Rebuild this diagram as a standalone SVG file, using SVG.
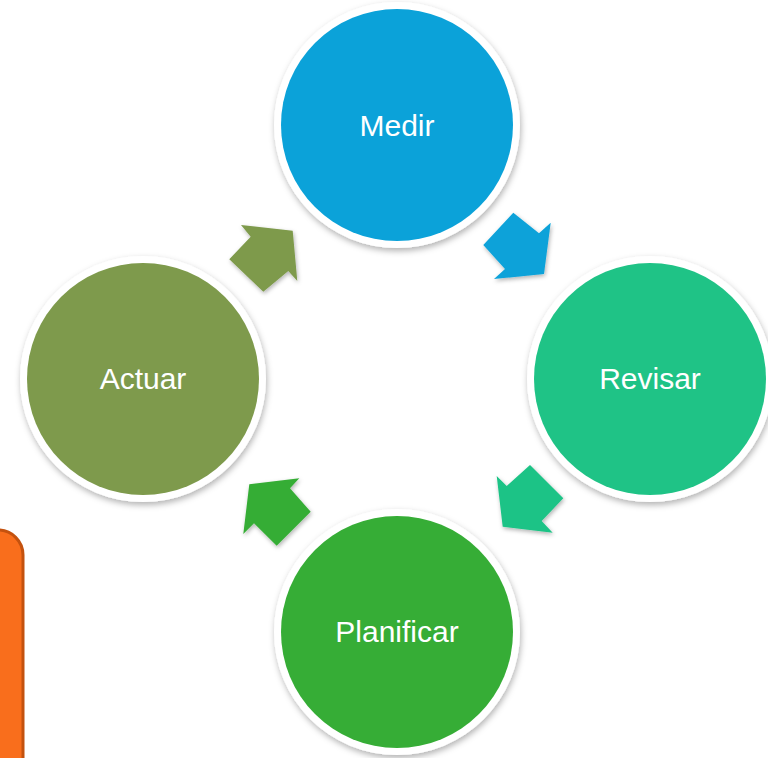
<svg xmlns="http://www.w3.org/2000/svg" width="768" height="758" viewBox="0 0 768 758">
<defs>
<filter id="sh" x="-20%" y="-20%" width="140%" height="140%">
<feDropShadow dx="1" dy="3" stdDeviation="3" flood-color="#000" flood-opacity="0.3"/>
</filter>
<filter id="ash" x="-20%" y="-20%" width="140%" height="140%">
<feDropShadow dx="1" dy="2" stdDeviation="2" flood-color="#000" flood-opacity="0.3"/>
</filter>
</defs>
<style>
.ring{fill:#ffffff;filter:url(#sh)}
.lbl{font-family:"Liberation Sans",Arial,sans-serif;font-size:30px;fill:#ffffff;text-anchor:middle}
.arr{filter:url(#ash)}
</style>
<rect width="768" height="758" fill="#ffffff"/>
<g id="side-panel">
<rect x="-40" y="530" width="63" height="260" rx="25" ry="25" fill="#F96E1C" stroke="#C4520F" stroke-width="3"/>
</g>
<g id="connectors">
<polygon class="arr" fill="#7E9A4C" points="229.3,259.3 250.7,236.7 241,225 292.7,230.7 297.3,281 288.3,271 263.3,291.7"/>
<polygon class="arr" fill="#0BA2D9" points="513.3,212.7 539,233.3 550.7,222.7 544,274 494,279 505,269 483.3,245"/>
<polygon class="arr" fill="#1FC386" points="530,465 563.3,498.3 541.7,521 552.7,532.7 502.7,526.7 496.7,476 506.7,486"/>
<polygon class="arr" fill="#36AD36" points="249.3,484.3 299.3,478.3 290,488.3 310.7,511.7 276.7,545.7 254,523.3 243.3,534"/>
</g>
<g id="medir">
<circle class="ring" cx="397" cy="125" r="123"/>
<circle cx="397" cy="125" r="116" fill="#0BA2D9"/>
<text class="lbl" x="397" y="135.5">Medir</text>
</g>
<g id="revisar">
<circle class="ring" cx="650" cy="379" r="123"/>
<circle cx="650" cy="379" r="116" fill="#1FC386"/>
<text class="lbl" x="650" y="389">Revisar</text>
</g>
<g id="planificar">
<circle class="ring" cx="397" cy="632" r="123"/>
<circle cx="397" cy="632" r="116" fill="#36AD36"/>
<text class="lbl" x="397" y="642">Planificar</text>
</g>
<g id="actuar">
<circle class="ring" cx="143" cy="379" r="123"/>
<circle cx="143" cy="379" r="116" fill="#7E9A4C"/>
<text class="lbl" x="143" y="389">Actuar</text>
</g>
</svg>
